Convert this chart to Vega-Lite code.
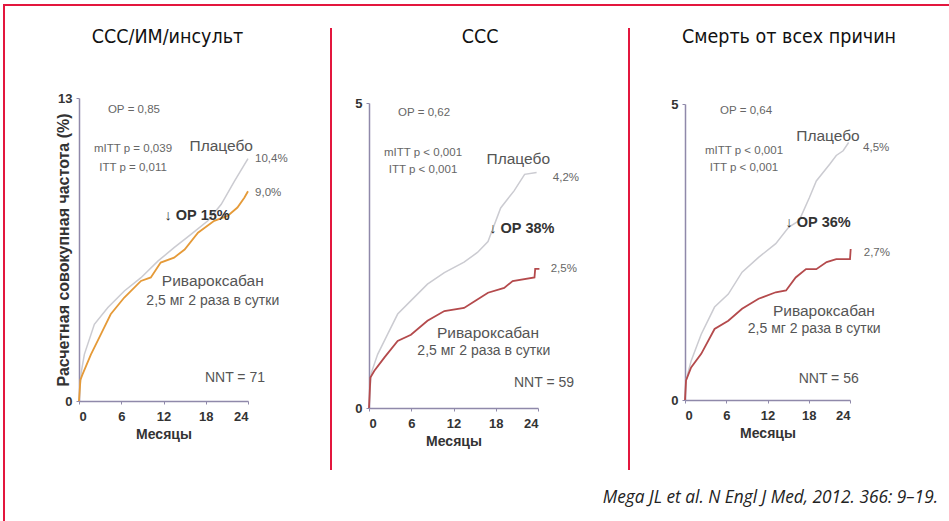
{
  "$schema": "https://vega.github.io/schema/vega-lite/v6.json",
  "padding": {"left": 3, "top": 4, "right": 0, "bottom": 0},
  "background": "white",
  "spacing": 0,
  "bounds": "flush",
  "title": {"text": "Mega JL et al. N Engl J Med, 2012. 366: 9–19.", "orient": "bottom", "anchor": "end", "offset": -33, "dx": -12, "font": "Open Sans", "fontStyle": "italic", "fontWeight": "normal", "fontSize": 17.3, "color": "#222"},
  "resolve": {"scale": {"x": "independent", "y": "independent"}, "axis": {"x": "independent", "y": "independent"}},
  "config": {
    "view": {"stroke": null},
    "title": {"font": "DejaVu Sans Condensed, Liberation Sans Narrow, sans-serif", "fontSize": 19.5, "fontWeight": "normal", "color": "#111"},
    "axis": {"grid": false, "labelFont": "Liberation Sans", "labelFontWeight": "bold", "labelFontSize": 13, "labelColor": "#333", "domainColor": "#8f89aa", "domainWidth": 1.5, "tickColor": "#8f89aa", "tickSize": 3, "labelPadding": 6, "titleFont": "Liberation Sans", "titleFontWeight": "bold", "titleFontSize": 14, "titleColor": "#333"},
    "text": {"font": "Liberation Sans", "color": "#666"}
  },
  "datasets": {
    "curves": [
      {"p": 1, "arm": "P", "x": 0, "y": 0}, {"p": 1, "arm": "P", "x": 0.3, "y": 1.2}, {"p": 1, "arm": "P", "x": 0.76, "y": 2.0}, {"p": 1, "arm": "P", "x": 2.18, "y": 3.29}, {"p": 1, "arm": "P", "x": 4.07, "y": 4.0}, {"p": 1, "arm": "P", "x": 6.44, "y": 4.72}, {"p": 1, "arm": "P", "x": 8.8, "y": 5.29}, {"p": 1, "arm": "P", "x": 11.2, "y": 6.0}, {"p": 1, "arm": "P", "x": 13.5, "y": 6.58}, {"p": 1, "arm": "P", "x": 15.9, "y": 7.15}, {"p": 1, "arm": "P", "x": 18.3, "y": 7.73}, {"p": 1, "arm": "P", "x": 20.2, "y": 8.44}, {"p": 1, "arm": "P", "x": 22.1, "y": 9.44}, {"p": 1, "arm": "P", "x": 24, "y": 10.4},
      {"p": 1, "arm": "R", "x": 0, "y": 0}, {"p": 1, "arm": "R", "x": 0.2, "y": 0.9}, {"p": 1, "arm": "R", "x": 0.5, "y": 1.14}, {"p": 1, "arm": "R", "x": 1.7, "y": 2.0}, {"p": 1, "arm": "R", "x": 3.1, "y": 2.86}, {"p": 1, "arm": "R", "x": 4.5, "y": 3.72}, {"p": 1, "arm": "R", "x": 6.4, "y": 4.43}, {"p": 1, "arm": "R", "x": 8.8, "y": 5.15}, {"p": 1, "arm": "R", "x": 10.2, "y": 5.3}, {"p": 1, "arm": "R", "x": 11.6, "y": 5.94}, {"p": 1, "arm": "R", "x": 13.5, "y": 6.15}, {"p": 1, "arm": "R", "x": 15.0, "y": 6.5}, {"p": 1, "arm": "R", "x": 16.9, "y": 7.22}, {"p": 1, "arm": "R", "x": 19.2, "y": 7.73}, {"p": 1, "arm": "R", "x": 21.1, "y": 7.94}, {"p": 1, "arm": "R", "x": 22.5, "y": 8.3}, {"p": 1, "arm": "R", "x": 23.5, "y": 8.73}, {"p": 1, "arm": "R", "x": 24, "y": 9.0},
      {"p": 2, "arm": "P", "x": 0, "y": 0}, {"p": 2, "arm": "P", "x": 0.28, "y": 0.56}, {"p": 2, "arm": "P", "x": 1.23, "y": 0.88}, {"p": 2, "arm": "P", "x": 2.65, "y": 1.21}, {"p": 2, "arm": "P", "x": 4.07, "y": 1.54}, {"p": 2, "arm": "P", "x": 5.96, "y": 1.76}, {"p": 2, "arm": "P", "x": 8.3, "y": 2.03}, {"p": 2, "arm": "P", "x": 10.7, "y": 2.22}, {"p": 2, "arm": "P", "x": 13.5, "y": 2.39}, {"p": 2, "arm": "P", "x": 15.4, "y": 2.55}, {"p": 2, "arm": "P", "x": 16.9, "y": 2.73}, {"p": 2, "arm": "P", "x": 18.7, "y": 3.28}, {"p": 2, "arm": "P", "x": 20.6, "y": 3.56}, {"p": 2, "arm": "P", "x": 22.1, "y": 3.83}, {"p": 2, "arm": "P", "x": 23.8, "y": 3.86},
      {"p": 2, "arm": "R", "x": 0, "y": 0}, {"p": 2, "arm": "R", "x": 0.2, "y": 0.5}, {"p": 2, "arm": "R", "x": 0.76, "y": 0.61}, {"p": 2, "arm": "R", "x": 2.2, "y": 0.83}, {"p": 2, "arm": "R", "x": 4.07, "y": 1.1}, {"p": 2, "arm": "R", "x": 5.96, "y": 1.2}, {"p": 2, "arm": "R", "x": 8.3, "y": 1.43}, {"p": 2, "arm": "R", "x": 10.7, "y": 1.59}, {"p": 2, "arm": "R", "x": 13.5, "y": 1.64}, {"p": 2, "arm": "R", "x": 15, "y": 1.75}, {"p": 2, "arm": "R", "x": 16.9, "y": 1.89}, {"p": 2, "arm": "R", "x": 19.2, "y": 1.97}, {"p": 2, "arm": "R", "x": 20.4, "y": 2.08}, {"p": 2, "arm": "R", "x": 23.5, "y": 2.14}, {"p": 2, "arm": "R", "x": 23.6, "y": 2.28}, {"p": 2, "arm": "R", "x": 24.2, "y": 2.28},
      {"p": 3, "arm": "P", "x": 0, "y": 0}, {"p": 3, "arm": "P", "x": 0.15, "y": 0.33}, {"p": 3, "arm": "P", "x": 0.89, "y": 0.66}, {"p": 3, "arm": "P", "x": 2.36, "y": 1.11}, {"p": 3, "arm": "P", "x": 4.3, "y": 1.57}, {"p": 3, "arm": "P", "x": 6.3, "y": 1.79}, {"p": 3, "arm": "P", "x": 8.3, "y": 2.16}, {"p": 3, "arm": "P", "x": 10.7, "y": 2.41}, {"p": 3, "arm": "P", "x": 13.2, "y": 2.64}, {"p": 3, "arm": "P", "x": 15.1, "y": 2.92}, {"p": 3, "arm": "P", "x": 16.6, "y": 3.03}, {"p": 3, "arm": "P", "x": 18.1, "y": 3.42}, {"p": 3, "arm": "P", "x": 19.1, "y": 3.7}, {"p": 3, "arm": "P", "x": 21.1, "y": 3.99}, {"p": 3, "arm": "P", "x": 22.0, "y": 4.13}, {"p": 3, "arm": "P", "x": 23.0, "y": 4.21}, {"p": 3, "arm": "P", "x": 23.8, "y": 4.35},
      {"p": 3, "arm": "R", "x": 0, "y": 0}, {"p": 3, "arm": "R", "x": 0.15, "y": 0.33}, {"p": 3, "arm": "R", "x": 0.89, "y": 0.55}, {"p": 3, "arm": "R", "x": 2.36, "y": 0.78}, {"p": 3, "arm": "R", "x": 4.3, "y": 1.2}, {"p": 3, "arm": "R", "x": 6.3, "y": 1.34}, {"p": 3, "arm": "R", "x": 8.3, "y": 1.54}, {"p": 3, "arm": "R", "x": 10.7, "y": 1.71}, {"p": 3, "arm": "R", "x": 13.2, "y": 1.82}, {"p": 3, "arm": "R", "x": 14.7, "y": 1.85}, {"p": 3, "arm": "R", "x": 16.1, "y": 2.07}, {"p": 3, "arm": "R", "x": 17.6, "y": 2.21}, {"p": 3, "arm": "R", "x": 19.1, "y": 2.21}, {"p": 3, "arm": "R", "x": 20.6, "y": 2.33}, {"p": 3, "arm": "R", "x": 22.0, "y": 2.38}, {"p": 3, "arm": "R", "x": 24.0, "y": 2.38}, {"p": 3, "arm": "R", "x": 24.1, "y": 2.55}
    ],
    "notes": [
      {"p": 1, "k": "stat", "x": 7.8, "y": 12.48, "t": "ОР = 0,85"},
      {"p": 1, "k": "stat", "x": 7.67, "y": 10.81, "t": "mITT p = 0,039"},
      {"p": 1, "k": "stat", "x": 7.67, "y": 10.0, "t": "ITT p = 0,011"},
      {"p": 1, "k": "arm", "x": 20.2, "y": 10.94, "t": "Плацебо"},
      {"p": 1, "k": "pct", "x": 25.0, "y": 10.38, "t": "10,4%"},
      {"p": 1, "k": "pct", "x": 25.0, "y": 8.92, "t": "9,0%"},
      {"p": 1, "k": "rr", "x": 16.76, "y": 7.94, "t": "↓ ОР 15%"},
      {"p": 1, "k": "arm", "x": 19.0, "y": 5.15, "t": "Ривароксабан"},
      {"p": 1, "k": "dose", "x": 19.0, "y": 4.29, "t": "2,5 мг 2 раза в сутки"},
      {"p": 1, "k": "dose", "x": 22.15, "y": 0.99, "t": "NNT = 71"},
      {"p": 2, "k": "stat", "x": 7.81, "y": 4.84, "t": "ОР = 0,62"},
      {"p": 2, "k": "stat", "x": 7.67, "y": 4.18, "t": "mITT p < 0,001"},
      {"p": 2, "k": "stat", "x": 7.67, "y": 3.9, "t": "ITT p < 0,001"},
      {"p": 2, "k": "arm", "x": 21.2, "y": 4.08, "t": "Плацебо"},
      {"p": 2, "k": "pct", "x": 26.1, "y": 3.77, "t": "4,2%"},
      {"p": 2, "k": "rr", "x": 21.7, "y": 2.93, "t": "↓ ОР 38%"},
      {"p": 2, "k": "pct", "x": 25.8, "y": 2.28, "t": "2,5%"},
      {"p": 2, "k": "arm", "x": 16.9, "y": 1.23, "t": "Ривароксабан"},
      {"p": 2, "k": "dose", "x": 16.3, "y": 0.93, "t": "2,5 мг 2 раза в сутки"},
      {"p": 2, "k": "dose", "x": 24.85, "y": 0.41, "t": "NNT = 59"},
      {"p": 3, "k": "stat", "x": 8.87, "y": 4.88, "t": "ОР = 0,64"},
      {"p": 3, "k": "arm", "x": 20.8, "y": 4.46, "t": "Плацебо"},
      {"p": 3, "k": "pct", "x": 25.9, "y": 4.26, "t": "4,5%"},
      {"p": 3, "k": "stat", "x": 8.58, "y": 4.21, "t": "mITT p < 0,001"},
      {"p": 3, "k": "stat", "x": 8.58, "y": 3.92, "t": "ITT p  < 0,001"},
      {"p": 3, "k": "rr", "x": 19.35, "y": 2.99, "t": "↓ ОР 36%"},
      {"p": 3, "k": "pct", "x": 26.0, "y": 2.48, "t": "2,7%"},
      {"p": 3, "k": "arm", "x": 20.2, "y": 1.5, "t": "Ривароксабан"},
      {"p": 3, "k": "dose", "x": 18.8, "y": 1.2, "t": "2,5 мг 2 раза в сутки"},
      {"p": 3, "k": "dose", "x": 20.9, "y": 0.35, "t": "NNT = 56"}
    ]
  },
  "hconcat": [
    {
      "width": 327, "height": 516,
      "title": {"text": "ССС/ИМ/инсульт", "offset": -42},
      "view": {"stroke": "#e3173e", "strokeWidth": 2, "strokeDash": [327, 23, 442, 378, 516]},
      "encoding": {
        "x": {"field": "x", "type": "quantitative", "scale": {"domain": [0, 24], "range": [75, 244], "nice": false, "zero": false}, "axis": {"values": [0, 6, 12, 18, 24], "offset": -120, "title": "Месяцы", "titlePadding": 4}},
        "y": {"field": "y", "type": "quantitative", "scale": {"domain": [0, 13], "range": [396, 93], "nice": false}, "axis": {"values": [0, 13], "offset": -75, "labelPadding": 4, "title": "Расчетная совокупная частота (%)", "titleX": -8, "titleFontSize": 16}}
      },
      "layer": [
        {"data": {"name": "curves"}, "transform": [{"filter": "datum.p == 1 && datum.arm == 'P'"}], "mark": {"type": "line", "color": "#cbcbd1", "strokeWidth": 1.5, "clip": false}},
        {"data": {"name": "curves"}, "transform": [{"filter": "datum.p == 1 && datum.arm == 'R'"}], "mark": {"type": "line", "color": "#e59a38", "strokeWidth": 1.8, "clip": false}},
        {"data": {"name": "notes"}, "transform": [{"filter": "datum.p == 1 && datum.k == 'stat'"}], "mark": {"type": "text", "fontSize": 11.5}, "encoding": {"text": {"field": "t"}}},
        {"data": {"name": "notes"}, "transform": [{"filter": "datum.p == 1 && datum.k == 'arm'"}], "mark": {"type": "text", "fontSize": 15.5, "color": "#555"}, "encoding": {"text": {"field": "t"}}},
        {"data": {"name": "notes"}, "transform": [{"filter": "datum.p == 1 && datum.k == 'dose'"}], "mark": {"type": "text", "fontSize": 14, "color": "#555"}, "encoding": {"text": {"field": "t"}}},
        {"data": {"name": "notes"}, "transform": [{"filter": "datum.p == 1 && datum.k == 'pct'"}], "mark": {"type": "text", "fontSize": 11.5, "align": "left"}, "encoding": {"text": {"field": "t"}}},
        {"data": {"name": "notes"}, "transform": [{"filter": "datum.p == 1 && datum.k == 'rr'"}], "mark": {"type": "text", "fontSize": 14.5, "fontWeight": "bold", "color": "#333"}, "encoding": {"text": {"field": "t"}}}
      ]
    },
    {
      "width": 298, "height": 516,
      "title": {"text": "ССС", "offset": -42},
      "view": {"stroke": "#e3173e", "strokeWidth": 2, "strokeDash": [298, 23, 442, 865]},
      "encoding": {
        "x": {"field": "x", "type": "quantitative", "scale": {"domain": [0, 24], "range": [38, 207], "nice": false, "zero": false}, "axis": {"values": [0, 6, 12, 18, 24], "offset": -113, "title": "Месяцы", "titlePadding": 4}},
        "y": {"field": "y", "type": "quantitative", "scale": {"domain": [0, 5], "range": [403, 98], "nice": false}, "axis": {"values": [0, 5], "offset": -38, "labelPadding": 4, "title": null}}
      },
      "layer": [
        {"data": {"name": "curves"}, "transform": [{"filter": "datum.p == 2 && datum.arm == 'P'"}], "mark": {"type": "line", "color": "#cbcbd1", "strokeWidth": 1.5, "clip": false}},
        {"data": {"name": "curves"}, "transform": [{"filter": "datum.p == 2 && datum.arm == 'R'"}], "mark": {"type": "line", "color": "#b44a4c", "strokeWidth": 1.8, "clip": false}},
        {"data": {"name": "notes"}, "transform": [{"filter": "datum.p == 2 && datum.k == 'stat'"}], "mark": {"type": "text", "fontSize": 11.5}, "encoding": {"text": {"field": "t"}}},
        {"data": {"name": "notes"}, "transform": [{"filter": "datum.p == 2 && datum.k == 'arm'"}], "mark": {"type": "text", "fontSize": 15.5, "color": "#555"}, "encoding": {"text": {"field": "t"}}},
        {"data": {"name": "notes"}, "transform": [{"filter": "datum.p == 2 && datum.k == 'dose'"}], "mark": {"type": "text", "fontSize": 14, "color": "#555"}, "encoding": {"text": {"field": "t"}}},
        {"data": {"name": "notes"}, "transform": [{"filter": "datum.p == 2 && datum.k == 'pct'"}], "mark": {"type": "text", "fontSize": 11.5, "align": "left"}, "encoding": {"text": {"field": "t"}}},
        {"data": {"name": "notes"}, "transform": [{"filter": "datum.p == 2 && datum.k == 'rr'"}], "mark": {"type": "text", "fontSize": 14.5, "fontWeight": "bold", "color": "#333"}, "encoding": {"text": {"field": "t"}}}
      ]
    },
    {
      "width": 320, "height": 516,
      "title": {"text": "Смерть от всех причин", "offset": -42},
      "view": {"stroke": "#e3173e", "strokeWidth": 2, "strokeDash": [320, 1352]},
      "encoding": {
        "x": {"field": "x", "type": "quantitative", "scale": {"domain": [0, 24], "range": [56, 221], "nice": false, "zero": false}, "axis": {"values": [0, 6, 12, 18, 24], "offset": -121, "title": "Месяцы", "titlePadding": 4}},
        "y": {"field": "y", "type": "quantitative", "scale": {"domain": [0, 5], "range": [395, 99], "nice": false}, "axis": {"values": [0, 5], "offset": -56, "labelPadding": 4, "title": null}}
      },
      "layer": [
        {"data": {"name": "curves"}, "transform": [{"filter": "datum.p == 3 && datum.arm == 'P'"}], "mark": {"type": "line", "color": "#cbcbd1", "strokeWidth": 1.5, "clip": false}},
        {"data": {"name": "curves"}, "transform": [{"filter": "datum.p == 3 && datum.arm == 'R'"}], "mark": {"type": "line", "color": "#b44a4c", "strokeWidth": 1.8, "clip": false}},
        {"data": {"name": "notes"}, "transform": [{"filter": "datum.p == 3 && datum.k == 'stat'"}], "mark": {"type": "text", "fontSize": 11.5}, "encoding": {"text": {"field": "t"}}},
        {"data": {"name": "notes"}, "transform": [{"filter": "datum.p == 3 && datum.k == 'arm'"}], "mark": {"type": "text", "fontSize": 15.5, "color": "#555"}, "encoding": {"text": {"field": "t"}}},
        {"data": {"name": "notes"}, "transform": [{"filter": "datum.p == 3 && datum.k == 'dose'"}], "mark": {"type": "text", "fontSize": 14, "color": "#555"}, "encoding": {"text": {"field": "t"}}},
        {"data": {"name": "notes"}, "transform": [{"filter": "datum.p == 3 && datum.k == 'pct'"}], "mark": {"type": "text", "fontSize": 11.5, "align": "left"}, "encoding": {"text": {"field": "t"}}},
        {"data": {"name": "notes"}, "transform": [{"filter": "datum.p == 3 && datum.k == 'rr'"}], "mark": {"type": "text", "fontSize": 14.5, "fontWeight": "bold", "color": "#333"}, "encoding": {"text": {"field": "t"}}}
      ]
    }
  ]
}
